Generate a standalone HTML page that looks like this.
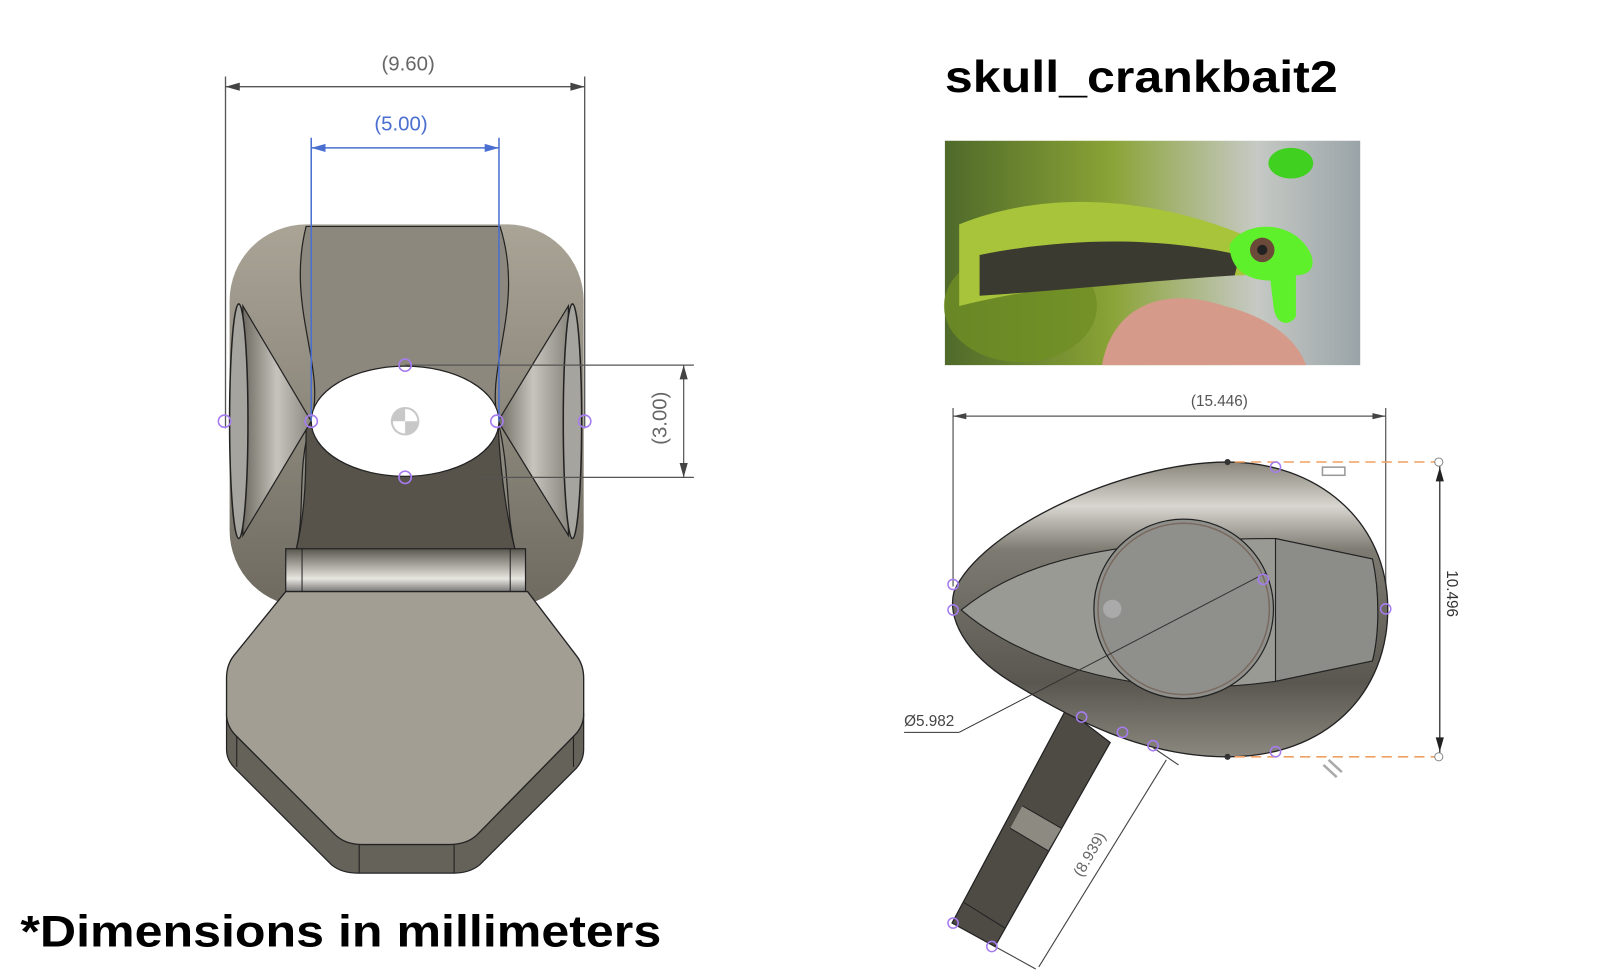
<!DOCTYPE html>
<html><head><meta charset="utf-8"><style>
html,body{margin:0;padding:0;background:#fff;width:1600px;height:971px;overflow:hidden}
svg{display:block}
</style></head><body>
<svg width="1600" height="971" viewBox="0 0 1568 952" preserveAspectRatio="none" xmlns="http://www.w3.org/2000/svg">
<defs>
<linearGradient id="bodyG" x1="0" y1="0" x2="0" y2="1">
<stop offset="0" stop-color="#a9a496"/><stop offset="0.5" stop-color="#8d887c"/><stop offset="1" stop-color="#6e6a60"/></linearGradient>
<linearGradient id="sideG" x1="0" y1="0" x2="1" y2="0">
<stop offset="0" stop-color="#6f6b62"/><stop offset="0.5" stop-color="#c6c4bd"/><stop offset="1" stop-color="#8a877f"/></linearGradient>
<linearGradient id="hingeG" x1="0" y1="0" x2="0" y2="1">
<stop offset="0" stop-color="#5a574f"/><stop offset="0.7" stop-color="#e8e6e0"/><stop offset="1" stop-color="#777"/></linearGradient>
<linearGradient id="crankG" x1="0" y1="0" x2="0" y2="1">
<stop offset="0" stop-color="#8a867c"/><stop offset="0.15" stop-color="#d8d6d0"/><stop offset="0.3" stop-color="#7d7a72"/><stop offset="0.75" stop-color="#5a5750"/><stop offset="1" stop-color="#8b887f"/></linearGradient>
<linearGradient id="photoG" x1="0" y1="0" x2="1" y2="0">
<stop offset="0" stop-color="#4f6a2a"/><stop offset="0.4" stop-color="#8aa336"/><stop offset="0.75" stop-color="#c6c9c4"/><stop offset="1" stop-color="#9aa4a8"/></linearGradient>
</defs>

<!-- LEFT PART -->
<g stroke="#555" stroke-width="1.3" fill="none">
<line x1="221" y1="75" x2="221" y2="420"/><line x1="573" y1="75" x2="573" y2="420"/>
<line x1="221" y1="85" x2="573" y2="85"/>
</g>
<polygon points="221,85 235,81 235,89" fill="#444"/><polygon points="573,85 559,81 559,89" fill="#444"/>
<text x="400" y="69" font-family="Liberation Sans,sans-serif" font-size="20" fill="#666" text-anchor="middle">(9.60)</text>

<rect x="225" y="220" width="347" height="375" rx="75" fill="url(#bodyG)"/>
<path d="M300,222 C280,300 320,360 305,413 C290,460 300,500 290,540 L505,540 C495,500 500,460 488,413 C475,360 515,300 490,222 Z" fill="#8d887d" stroke="#222" stroke-width="1.2"/>
<path d="M300,413 C300,460 300,500 290,540 L505,540 C495,500 490,460 488,413 Z" fill="#57534b" stroke="#222" stroke-width="1.2"/>
<path d="M238,300 L305,413 L238,525 Z" fill="url(#sideG)" stroke="#222" stroke-width="1.2"/>
<path d="M557,300 L488,413 L557,525 Z" fill="url(#sideG)" stroke="#222" stroke-width="1.2"/>
<ellipse cx="234" cy="413" rx="9" ry="115" fill="#a6a49e" stroke="#222" stroke-width="1.5"/>
<ellipse cx="561" cy="413" rx="9" ry="115" fill="#a6a49e" stroke="#222" stroke-width="1.5"/>
<ellipse cx="397" cy="413" rx="92" ry="54" fill="#fff" stroke="#222" stroke-width="1.2"/>
<circle cx="397" cy="413" r="14" fill="#c8c8c8"/><path d="M397,413 L397,401 A12,12 0 0 1 409,413 Z M397,413 L397,425 A12,12 0 0 1 385,413 Z" fill="#fff"/>
<rect x="280" y="538" width="235" height="42" fill="url(#hingeG)" stroke="#222" stroke-width="1.2"/>
<line x1="296" y1="538" x2="296" y2="580" stroke="#222"/><line x1="500" y1="538" x2="500" y2="580" stroke="#222"/>
<!-- flap thickness -->
<path d="M222,700 L222,735 Q222,745 230,753 L325,848 Q335,856 350,856 L445,856 Q460,856 470,848 L565,753 Q572,745 572,735 L572,700 Z" fill="#65625a" stroke="#222" stroke-width="1.2"/>
<g stroke="#222" stroke-width="1.1"><line x1="232" y1="712" x2="232" y2="752"/><line x1="562" y1="712" x2="562" y2="752"/><line x1="352" y1="828" x2="352" y2="856"/><line x1="445" y1="828" x2="445" y2="856"/></g>
<!-- flap top -->
<path d="M280,580 L517,580 L565,643 Q572,652 572,665 L572,700 Q572,712 563,721 L468,818 Q458,828 440,828 L355,828 Q338,828 328,818 L231,721 Q222,712 222,700 L222,665 Q222,652 229,643 Z" fill="#a29e94" stroke="#222" stroke-width="1.3" stroke-linejoin="round"/>

<!-- blue dim -->
<g stroke="#4a6fd0" stroke-width="1.5"><line x1="305" y1="135" x2="305" y2="413"/><line x1="489" y1="135" x2="489" y2="413"/><line x1="305" y1="145" x2="489" y2="145"/></g>
<polygon points="305,145 319,141 319,149" fill="#4a6fd0"/><polygon points="489,145 475,141 475,149" fill="#4a6fd0"/>
<text x="393" y="128" font-family="Liberation Sans,sans-serif" font-size="20" fill="#4a6fd0" text-anchor="middle">(5.00)</text>
<!-- 3.00 dim -->
<g stroke="#555" stroke-width="1.2"><line x1="397" y1="358" x2="680" y2="358"/><line x1="470" y1="468" x2="680" y2="468"/><line x1="670" y1="358" x2="670" y2="468"/></g>
<polygon points="670,358 666,372 674,372" fill="#444"/><polygon points="670,468 666,454 674,454" fill="#444"/>
<text transform="translate(653,410) rotate(-90)" font-family="Liberation Sans,sans-serif" font-size="20" fill="#666" text-anchor="middle">(3.00)</text>
<g fill="none" stroke="#a67cf0" stroke-width="1.6">
<circle cx="220" cy="413" r="6"/><circle cx="305" cy="413" r="6"/><circle cx="487" cy="413" r="6"/><circle cx="573" cy="413" r="6"/><circle cx="397" cy="358" r="6"/><circle cx="397" cy="468" r="6"/></g>

<text x="20" y="928" font-family="Liberation Sans,sans-serif" font-size="44" font-weight="bold" fill="#000" textLength="628" lengthAdjust="spacingAndGlyphs">*Dimensions in millimeters</text>

<!-- RIGHT PART -->
<text x="926" y="90" font-family="Liberation Sans,sans-serif" font-size="44" font-weight="bold" fill="#000" textLength="385" lengthAdjust="spacingAndGlyphs">skull_crankbait2</text>
<rect x="926" y="138" width="407" height="220" fill="url(#photoG)"/>
<ellipse cx="1000" cy="300" rx="75" ry="55" fill="#6f8e24" opacity="0.8"/>
<path d="M940,220 C1040,180 1150,200 1230,235 L1220,270 C1120,270 1020,280 940,300 Z" fill="#a7c43a"/>
<path d="M960,250 C1060,230 1150,235 1215,250 L1210,270 C1130,275 1040,285 960,290 Z" fill="#3b3a30"/>
<path d="M1080,358 C1090,300 1140,280 1200,300 C1240,310 1270,330 1280,358 Z" fill="#d69a8a"/>
<path d="M1205,240 C1220,215 1270,215 1285,250 C1290,265 1280,270 1270,270 L1270,310 C1265,320 1250,320 1248,300 L1245,275 C1220,275 1205,262 1205,240 Z" fill="#5ef02a"/>
<circle cx="1237" cy="245" r="12" fill="#6b4a3a"/><circle cx="1237" cy="245" r="5" fill="#222"/>
<ellipse cx="1265" cy="160" rx="22" ry="15" fill="#40d020"/>

<!-- 15.446 dim -->
<g stroke="#555" stroke-width="1.2"><line x1="934" y1="400" x2="934" y2="575"/><line x1="1358" y1="400" x2="1358" y2="590"/><line x1="934" y1="408" x2="1358" y2="408"/></g>
<polygon points="934,408 947,405 947,411" fill="#444"/><polygon points="1358,408 1345,405 1345,411" fill="#444"/>
<text x="1195" y="398" font-family="Liberation Sans,sans-serif" font-size="15" fill="#555" text-anchor="middle">(15.446)</text>

<!-- stalk -->
<path d="M1045,695 L1088,728 L975,928 L933,905 Z" fill="#4e4b45" stroke="#222" stroke-width="1.2"/>
<path d="M1002,790 L1040,812 L1027,834 L990,812 Z" fill="#8d8a82"/>
<g stroke="#222" stroke-width="1"><line x1="1002" y1="790" x2="1040" y2="812"/><line x1="990" y1="812" x2="1027" y2="834"/><line x1="945" y1="885" x2="985" y2="910"/></g>
<!-- body -->
<path d="M1203,453 C1100,453 960,520 935,580 C928,605 945,640 990,668 C1050,705 1120,742 1203,742 C1300,742 1360,680 1360,597 C1360,510 1290,453 1203,453 Z" fill="url(#crankG)" stroke="#222" stroke-width="1.3"/>
<path d="M942,598 C990,560 1060,528 1250,528 L1345,548 C1352,580 1352,620 1345,648 L1250,668 C1100,690 990,640 942,598 Z" fill="#9a9a95" stroke="#222" stroke-width="1.1"/>
<path d="M1250,528 L1345,548 C1352,580 1352,620 1345,648 L1250,668 Z" fill="#8c8d88" stroke="#222" stroke-width="1.1"/>
<circle cx="1160" cy="597" r="88" fill="#8f908b" stroke="#222" stroke-width="1.2"/>
<circle cx="1160" cy="597" r="84" fill="none" stroke="#7a6a60" stroke-width="1.5"/>
<line x1="1240" y1="562" x2="940" y2="718" stroke="#333" stroke-width="1"/>
<line x1="886" y1="718" x2="940" y2="718" stroke="#333" stroke-width="1"/>
<text x="886" y="712" font-family="Liberation Sans,sans-serif" font-size="15" fill="#444">Ø5.982</text>
<circle cx="1090" cy="597" r="9" fill="#aaa"/>
<!-- height dim -->
<g stroke="#f0a060" stroke-width="1.5" stroke-dasharray="10,6"><line x1="1210" y1="453" x2="1410" y2="453"/><line x1="1210" y1="742" x2="1410" y2="742"/></g>
<line x1="1411" y1="455" x2="1411" y2="740" stroke="#222" stroke-width="1.2"/>
<polygon points="1411,458 1407,472 1415,472" fill="#222"/><polygon points="1411,737 1407,723 1415,723" fill="#222"/>
<text transform="translate(1418,582) rotate(90)" font-family="Liberation Sans,sans-serif" font-size="15" fill="#333" text-anchor="middle">10.496</text>
<rect x="1296" y="458" width="22" height="8" fill="none" stroke="#999" stroke-width="1.5"/>
<g stroke="#aaa" stroke-width="2.5"><line x1="1297" y1="750" x2="1310" y2="762"/><line x1="1302" y1="745" x2="1315" y2="757"/></g>
<!-- 8.939 dim -->
<g stroke="#444" stroke-width="1.1"><line x1="1130" y1="733" x2="1155" y2="750"/><line x1="975" y1="928" x2="1015" y2="950"/><line x1="1143" y1="745" x2="1018" y2="948"/></g>
<text transform="translate(1072,840) rotate(-60)" font-family="Liberation Sans,sans-serif" font-size="15" fill="#666" text-anchor="middle">(8.939)</text>
<g fill="none" stroke="#a67cf0" stroke-width="1.5">
<circle cx="934" cy="573" r="5"/><circle cx="934" cy="598" r="5"/><circle cx="1358" cy="597" r="5"/><circle cx="1238" cy="568" r="5"/><circle cx="1250" cy="458" r="5"/><circle cx="1250" cy="737" r="5"/><circle cx="1060" cy="703" r="5"/><circle cx="1100" cy="718" r="5"/><circle cx="1130" cy="731" r="5"/><circle cx="934" cy="905" r="5"/><circle cx="972" cy="928" r="5"/></g>
<circle cx="1410" cy="453" r="4" fill="#fff" stroke="#888"/><circle cx="1410" cy="742" r="4" fill="#fff" stroke="#888"/>
<circle cx="1203" cy="453" r="3" fill="#333"/><circle cx="1203" cy="742" r="3" fill="#333"/>
</svg>
</body></html>
